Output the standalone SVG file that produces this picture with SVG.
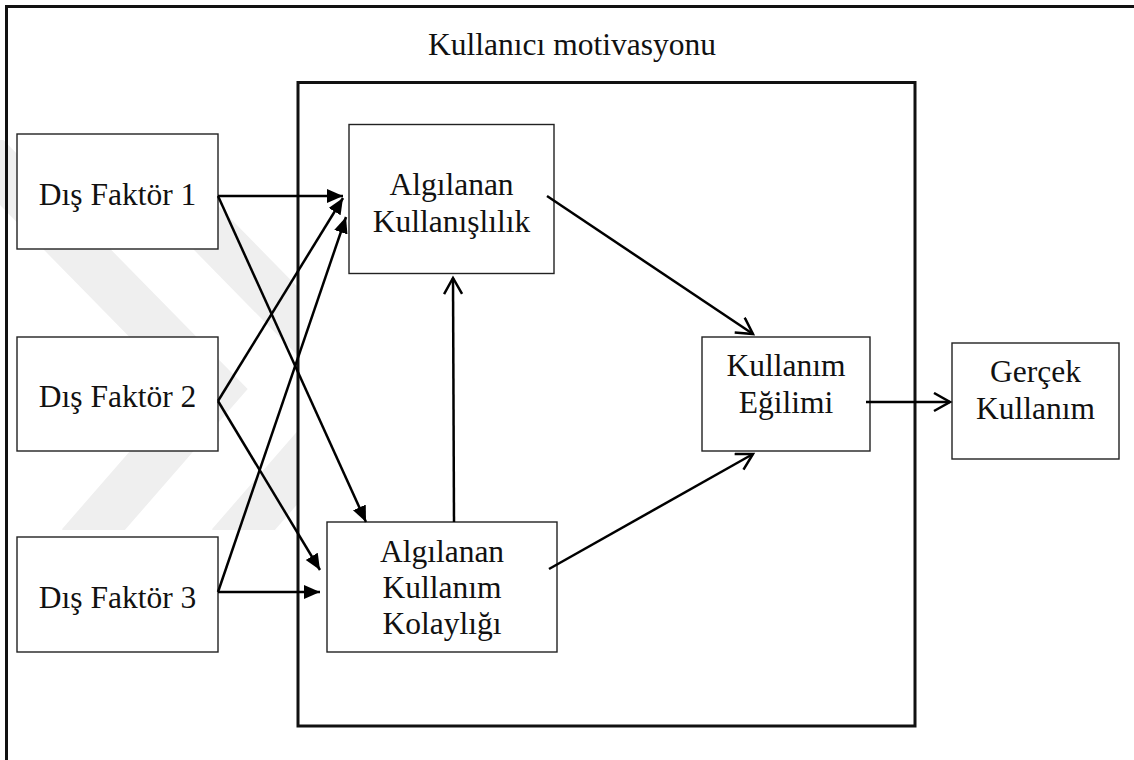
<svg xmlns="http://www.w3.org/2000/svg" width="1134" height="760" viewBox="0 0 1134 760">
  <style>
    .frame { fill: none; stroke: #111; stroke-width: 3; }
    .group-box { fill: #fff; stroke: #111; stroke-width: 3; }
    .node { fill: #fff; stroke: #222; stroke-width: 1.4; }
    .label { font-family: "Liberation Serif", "Times New Roman", serif; font-size: 31.5px; fill: #111; text-anchor: middle; }
    .conn { fill: none; stroke: #000; stroke-width: 2.5; }
    .wm { fill: none; stroke: #efefef; stroke-width: 48; stroke-linejoin: miter; }
  </style>
  <defs>
    <marker id="solid" markerUnits="userSpaceOnUse" markerWidth="18" markerHeight="16" refX="16" refY="7" orient="auto">
      <path d="M0,0 L16,7 L0,14 z" fill="#000"/>
    </marker>
    <marker id="open" markerUnits="userSpaceOnUse" markerWidth="20" markerHeight="22" refX="17" refY="10" orient="auto">
      <path d="M1,1 L17,10 L1,19" fill="none" stroke="#000" stroke-width="2.5"/>
    </marker>
    <clipPath id="wmclip">
      <rect x="0" y="140" width="1134" height="390"/>
    </clipPath>
  </defs>

  <rect width="1134" height="760" fill="#fff"/>

  <!-- faint background mark -->
  <g id="watermark" clip-path="url(#wmclip)">
    <polyline class="wm" points="-40,130 215,390 80,545"/>
    <polyline class="wm" points="110,130 365,390 230,545"/>
  </g>

  <!-- page frame -->
  <rect class="frame" x="6.5" y="6.5" width="1140" height="770"/>

  <!-- user motivation group -->
  <g id="motivation">
    <rect class="group-box" x="298" y="82.5" width="617" height="643.5"/>
    <text class="label" x="572" y="55">Kullanıcı motivasyonu</text>
  </g>

  <g id="dis-faktor-1">
    <rect class="node" x="17" y="134" width="201" height="115"/>
    <text class="label" x="117.5" y="205">Dış Faktör 1</text>
  </g>
  <g id="dis-faktor-2">
    <rect class="node" x="17" y="337" width="201" height="114"/>
    <text class="label" x="117.5" y="407">Dış Faktör 2</text>
  </g>
  <g id="dis-faktor-3">
    <rect class="node" x="17" y="537" width="201" height="115"/>
    <text class="label" x="117.5" y="608">Dış Faktör 3</text>
  </g>

  <g id="algilanan-kullanislilik">
    <rect class="node" x="349" y="124.5" width="205" height="149"/>
    <text class="label" x="451.5" y="195">Algılanan</text>
    <text class="label" x="451.5" y="232">Kullanışlılık</text>
  </g>

  <g id="algilanan-kullanim-kolayligi">
    <rect class="node" x="327" y="522" width="230" height="130"/>
    <text class="label" x="442" y="562">Algılanan</text>
    <text class="label" x="442" y="598">Kullanım</text>
    <text class="label" x="442" y="634">Kolaylığı</text>
  </g>

  <g id="kullanim-egilimi">
    <rect class="node" x="702" y="337" width="168" height="114"/>
    <text class="label" x="786" y="376">Kullanım</text>
    <text class="label" x="786" y="413">Eğilimi</text>
  </g>

  <g id="gercek-kullanim">
    <rect class="node" x="952" y="343" width="167" height="116"/>
    <text class="label" x="1035.5" y="382">Gerçek</text>
    <text class="label" x="1035.5" y="419">Kullanım</text>
  </g>

  <g id="connectors">
    <line class="conn" x1="218" y1="196" x2="343" y2="196" marker-end="url(#solid)"/>
    <line class="conn" x1="218" y1="196" x2="366" y2="522" marker-end="url(#solid)"/>
    <line class="conn" x1="218" y1="401" x2="343" y2="198" marker-end="url(#solid)"/>
    <line class="conn" x1="218" y1="401" x2="320" y2="570" marker-end="url(#solid)"/>
    <line class="conn" x1="218" y1="592" x2="346" y2="217" marker-end="url(#solid)"/>
    <line class="conn" x1="218" y1="592" x2="320" y2="592" marker-end="url(#solid)"/>
    <line class="conn" x1="454" y1="522" x2="453" y2="278" marker-end="url(#open)"/>
    <line class="conn" x1="547" y1="196" x2="753" y2="334" marker-end="url(#open)"/>
    <line class="conn" x1="549" y1="569" x2="753" y2="454" marker-end="url(#open)"/>
    <line class="conn" x1="866" y1="402" x2="950" y2="402" marker-end="url(#open)"/>
  </g>
</svg>
